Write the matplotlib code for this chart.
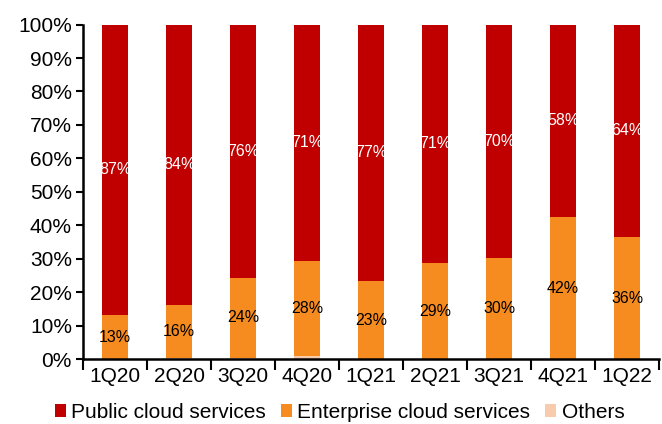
import matplotlib
matplotlib.use("Agg")
import matplotlib.pyplot as plt
import numpy as np

plt.rcParams['font.family'] = ['Liberation Sans', 'DejaVu Sans']

categories = ["1Q20", "2Q20", "3Q20", "4Q20", "1Q21", "2Q21", "3Q21", "4Q21", "1Q22"]
others = [0.0, 0.2, 0.3, 1.0, 0.0, 0.0, 0.0, 0.0, 0.0]
enterprise = [13.1, 16.0, 24.0, 28.2, 23.3, 28.6, 30.1, 42.4, 36.4]
public = [86.9, 83.8, 75.7, 70.8, 76.7, 71.4, 69.9, 57.6, 63.6]

c_pub = "#C00000"
c_ent = "#F68B1F"
c_oth = "#F8CBAD"

fig = plt.figure(figsize=(6.62, 4.24), dpi=100)
ax = fig.add_axes([0.1254, 0.1533, 0.8701, 0.7887])

x = np.arange(len(categories))
w = 0.4
oth = np.array(others)
ent = np.array(enterprise)
pub = np.array(public)

ax.bar(x, oth, w, color=c_oth, label="Others", zorder=2)
ax.bar(x, ent, w, bottom=oth, color=c_ent, label="Enterprise cloud services", zorder=2)
ax.bar(x, pub, w, bottom=oth + ent, color=c_pub, label="Public cloud services", zorder=2)

for i in range(len(categories)):
    ax.text(x[i], oth[i] + ent[i] / 2, f"{round(ent[i]):.0f}%", ha="center", va="center",
            fontsize=11.5, color="black", zorder=3)
    ax.text(x[i], oth[i] + ent[i] + pub[i] / 2, f"{round(pub[i]):.0f}%", ha="center", va="center",
            fontsize=11.5, color="white", zorder=3)

ax.set_xlim(-0.5, len(categories) - 0.5)
ax.set_ylim(0, 100)
ax.set_yticks(np.arange(0, 101, 10))
ax.set_yticklabels([f"{v}%" for v in range(0, 101, 10)], fontsize=15)
ax.set_xticks(x)
ax.set_xticklabels(categories, fontsize=15)
ax.set_xticks(np.arange(-0.5, len(categories), 1), minor=True)
ax.tick_params(axis="x", which="major", length=0, pad=6)
ax.tick_params(axis="x", which="minor", length=8, width=1.5, direction="out")
ax.tick_params(axis="y", length=5, width=1.5, direction="out", pad=3)

for s in ["top", "right"]:
    ax.spines[s].set_visible(False)
for s in ["left", "bottom"]:
    ax.spines[s].set_linewidth(1.8)

handles, labels = ax.get_legend_handles_labels()
order = [2, 1, 0]
fig.legend([handles[i] for i in order], [labels[i] for i in order],
           loc="center", bbox_to_anchor=(0.513, 0.027), ncol=3, frameon=False,
           fontsize=15, handlelength=0.55, handleheight=0.55, handletextpad=0.25,
           columnspacing=0.7, borderpad=0)

fig.savefig("out.png", dpi=100)
